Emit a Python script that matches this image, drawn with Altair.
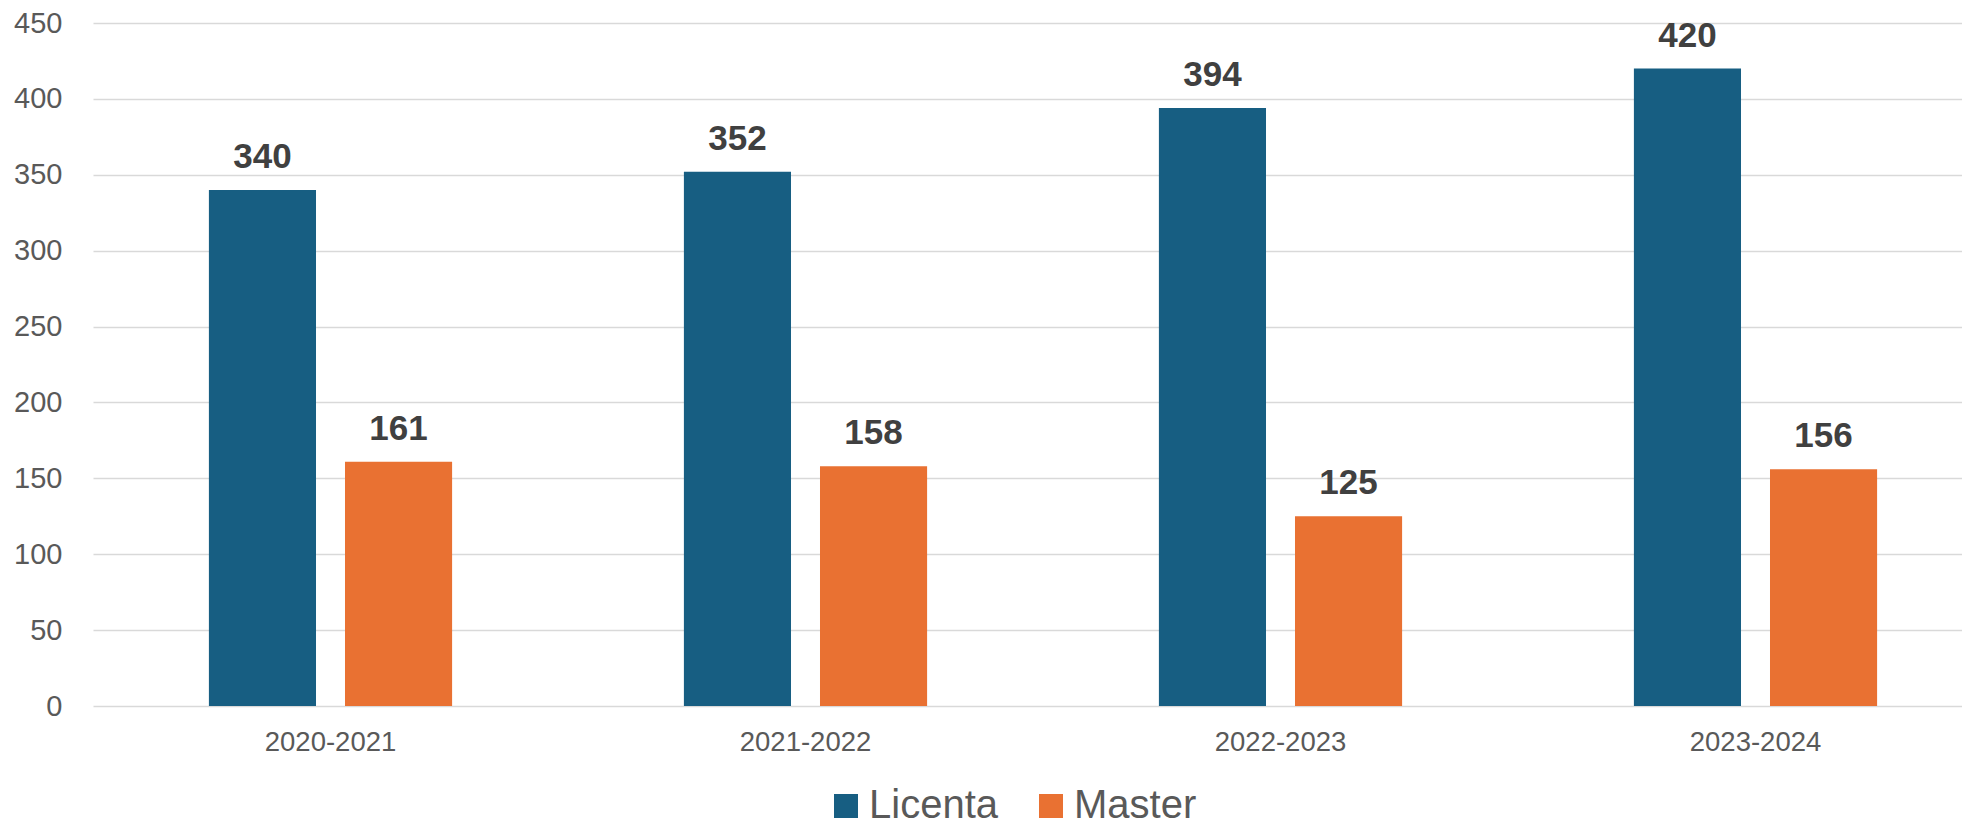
import altair as alt
import pandas as pd

years = ["2020-2021", "2021-2022", "2022-2023", "2023-2024"]
series = ["Licenta", "Master"]
licenta = [340, 352, 394, 420]
master = [161, 158, 125, 156]
colors = ["#175E82", "#E97132"]

rows = []
for i, yr in enumerate(years):
    rows.append({"year": yr, "series": "Licenta", "value": licenta[i]})
    rows.append({"year": yr, "series": "Master", "value": master[i]})
df = pd.DataFrame(rows)

FONT = "Liberation Sans"

x = alt.X(
    "year:N", sort=years, title=None,
    scale=alt.Scale(paddingInner=0.488, paddingOuter=0.244, range=[0, 1900]),
    axis=alt.Axis(labelAngle=0, labelFont=FONT, labelFontSize=27.5, labelColor="#595959",
                  labelPadding=22, ticks=False, domain=False, grid=False),
)
xo = alt.XOffset("series:N", sort=series, scale=alt.Scale(paddingInner=0.213, paddingOuter=0))
y = alt.Y(
    "value:Q", title=None,
    scale=alt.Scale(domain=[0, 450], nice=False),
    axis=alt.Axis(values=[0, 50, 100, 150, 200, 250, 300, 350, 400, 450],
                  labelFont=FONT, labelFontSize=29, labelColor="#595959",
                  labelPadding=31, ticks=False, domain=False,
                  gridColor="#D9D9D9", gridWidth=1.3),
)
color = alt.Color(
    "series:N", sort=series,
    scale=alt.Scale(domain=series, range=colors),
    legend=alt.Legend(title=None, orient="none", legendX=733, legendY=763,
                      direction="horizontal", symbolType="square", symbolSize=576,
                      symbolStrokeWidth=0, labelFontSize=40, labelFont=FONT,
                      labelColor="#595959", labelOffset=3, columnPadding=33,
                      padding=0),
)

bars = alt.Chart(df).mark_bar().encode(x=x, xOffset=xo, y=y, color=color)
labels = alt.Chart(df).mark_text(
    dy=-22, baseline="alphabetic", fontWeight="bold", fontSize=35,
    color="#404040", font=FONT,
).encode(x=x, xOffset=xo, y=y, text="value:Q")

chart = (bars + labels).properties(
    width=1869, height=683, autosize="none",
    padding={"left": 85, "top": 15, "right": 0, "bottom": 119},
    background="white",
).configure_view(stroke=None)

chart.save("out.html", embed_options={"renderer": "svg", "actions": False})
